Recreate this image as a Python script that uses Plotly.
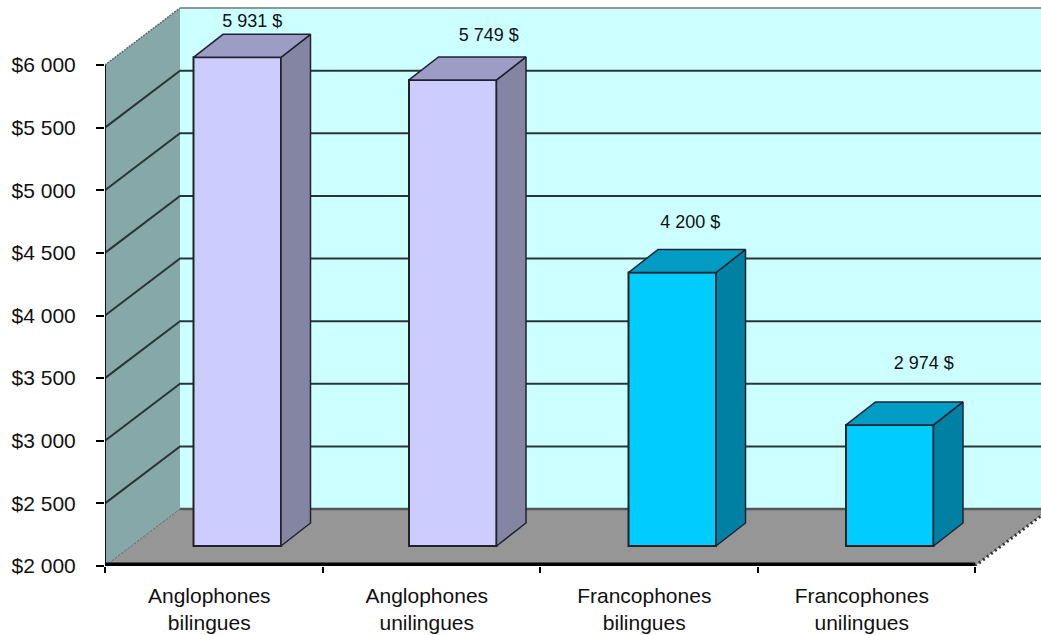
import plotly.graph_objects as go

categories = ["Anglophones<br>bilingues", "Anglophones<br>unilingues",
              "Francophones<br>bilingues", "Francophones<br>unilingues"]
values = [5931, 5749, 4200, 2974]
value_labels = ["5 931 $", "5 749 $", "4 200 $", "2 974 $"]
tick_values = [2000, 2500, 3000, 3500, 4000, 4500, 5000, 5500, 6000]
tick_labels = ["$2 000", "$2 500", "$3 000", "$3 500", "$4 000", "$4 500", "$5 000", "$5 500", "$6 000"]
label_lift_px = [35, 43.5, 49.5, 60.5]
label_shift_px = [15, 34, 18, 34]
bar_nudge_px = [0, -2, 0, 0]

front = ["#CCCCFF", "#CCCCFF", "#00CCFF", "#00CCFF"]
side = ["#8484A3", "#8484A3", "#0080A3", "#0080A3"]
top = ["#9C9CC4", "#9C9CC4", "#009CC4", "#009CC4"]

W, H = 1041, 635
L, B = 105, 69
PX_X = 217.5
PX_Y = 501 / 4000
xmin = -0.5
xmax = xmin + (W - L) / PX_X
ymin = 2000
ymax = ymin + (H - B) / PX_Y
xend = 3.5


def ux(px):
    return px / PX_X


def uy(px):
    return px / PX_Y


wall_dx, wall_dy = ux(75), uy(57)
bar_dx, bar_dy = ux(23.5), uy(20)
bar_w = ux(87.5)
depth_x, depth_y = ux(29.5), uy(23)
bar_scale = 0.9925


def poly(pts):
    return "M" + " L".join(f"{x},{y}" for x, y in pts) + " Z"


shapes = []
ytop = tick_values[-1]
# back wall
shapes.append(dict(type="path", layer="below", xref="x", yref="y",
                   path=poly([(xmin + wall_dx, ymin + wall_dy), (xmax, ymin + wall_dy),
                              (xmax, ytop + wall_dy), (xmin + wall_dx, ytop + wall_dy)]),
                   fillcolor="#CCFFFF", line=dict(width=0)))
shapes.append(dict(type="line", layer="below", xref="x", yref="y",
                   x0=xmin + wall_dx, x1=xmax, y0=ytop + wall_dy, y1=ytop + wall_dy,
                   line=dict(color="#8A9A9A", width=2)))
# side wall
shapes.append(dict(type="path", layer="below", xref="x", yref="y",
                   path=poly([(xmin, ymin), (xmin + wall_dx, ymin + wall_dy),
                              (xmin + wall_dx, ytop + wall_dy), (xmin, ytop)]),
                   fillcolor="#86A8A8", line=dict(width=0)))
shapes.append(dict(type="line", layer="below", xref="x", yref="y",
                   x0=xmin, x1=xmin + wall_dx, y0=ytop, y1=ytop + wall_dy,
                   line=dict(color="#5A6A6A", width=1.5, dash="2px,1px")))
# floor
shapes.append(dict(type="path", layer="below", xref="x", yref="y",
                   path=poly([(xmin, ymin), (xend, ymin), (xend + wall_dx, ymin + wall_dy),
                              (xmin + wall_dx, ymin + wall_dy)]),
                   fillcolor="#969696", line=dict(width=0)))
shapes.append(dict(type="line", layer="below", xref="x", yref="y",
                   x0=xend, x1=xend + wall_dx, y0=ymin, y1=ymin + wall_dy,
                   line=dict(color="#333333", width=3, dash="2px,3px")))
shapes.append(dict(type="line", layer="below", xref="x", yref="y",
                   x0=xmin, x1=xmin + wall_dx, y0=ymin, y1=ymin + wall_dy,
                   line=dict(color="#5A6A6A", width=1, dash="3px,1px")))
shapes.append(dict(type="line", layer="below", xref="x", yref="y",
                   x0=xmin + wall_dx, x1=xmax, y0=ymin + wall_dy, y1=ymin + wall_dy,
                   line=dict(color="#555555", width=2.5)))
# gridlines
for t in tick_values[1:-1]:
    shapes.append(dict(type="path", layer="below", xref="x", yref="y",
                       path=f"M{xmin},{t} L{xmin + wall_dx},{t + wall_dy} L{xmax},{t + wall_dy}",
                       line=dict(color="#2A3636", width=2)))
# axis lines
shapes.append(dict(type="line", layer="below", xref="x", yref="y",
                   x0=xmin, x1=xmin, y0=ymin, y1=ytop,
                   line=dict(color="#111111", width=2)))
shapes.append(dict(type="line", layer="below", xref="x", yref="y",
                   x0=xmin, x1=xend, y0=ymin + uy(1.5), y1=ymin + uy(1.5),
                   line=dict(color="#000000", width=4)))

fig = go.Figure()

base = ymin + bar_dy
heights = [(v - ymin) * bar_scale for v in values]
centers = [i + bar_dx + ux(n) for i, n in enumerate(bar_nudge_px)]
lefts = [c - bar_w / 2 for c in centers]

fig.add_trace(go.Bar(
    x=centers,
    y=heights, base=base, width=bar_w,
    marker=dict(color=front, line=dict(color="#222222", width=2)),
    hoverinfo="skip", showlegend=False))

for i, h in enumerate(heights):
    xl, xr = lefts[i], lefts[i] + bar_w
    yt = base + h
    fig.add_trace(go.Scatter(
        x=[xr, xr + depth_x, xr + depth_x, xr, xr],
        y=[base, base + depth_y, yt + depth_y, yt, base],
        mode="lines", fill="toself", fillcolor=side[i],
        line=dict(color="#222233", width=1.5), hoverinfo="skip", showlegend=False))
    fig.add_trace(go.Scatter(
        x=[xl, xr, xr + depth_x, xl + depth_x, xl],
        y=[yt, yt, yt + depth_y, yt + depth_y, yt],
        mode="lines", fill="toself", fillcolor=top[i],
        line=dict(color="#222233", width=1.5), hoverinfo="skip", showlegend=False))

fig.add_trace(go.Scatter(
    x=[i + bar_dx + ux(s) for i, s in enumerate(label_shift_px)],
    y=[base + h + uy(l) for h, l in zip(heights, label_lift_px)],
    mode="text", text=value_labels, textposition="middle center",
    textfont=dict(family="Liberation Sans", size=18, color="#111111"),
    hoverinfo="skip", showlegend=False))

fig.update_layout(
    width=W, height=H, autosize=False,
    margin=dict(l=L, r=0, t=0, b=B),
    paper_bgcolor="white", plot_bgcolor="white",
    shapes=shapes,
    font=dict(family="Liberation Sans", size=21, color="#111111"),
    xaxis=dict(range=[xmin, xmax], showgrid=False, zeroline=False, showline=False,
               tickmode="array", tickvals=[i - ux(4.5) for i in range(len(categories))],
               ticktext=categories, ticks="", ticklabelstandoff=15,
               minor=dict(tickmode="array", tickvals=[xmin + i for i in range(5)],
                          ticks="outside", ticklen=6, tickwidth=2, tickcolor="#000000",
                          showgrid=False)),
    yaxis=dict(range=[ymin, ymax], showgrid=False, zeroline=False, showline=False,
               tickmode="array", tickvals=tick_values, ticktext=tick_labels,
               ticks="outside", ticklen=8, tickwidth=2, tickcolor="#000000",
               ticklabelstandoff=16),
)

fig.write_html("out.html", config=dict(displayModeBar=False),
               post_script="document.body.style.margin='0';")
